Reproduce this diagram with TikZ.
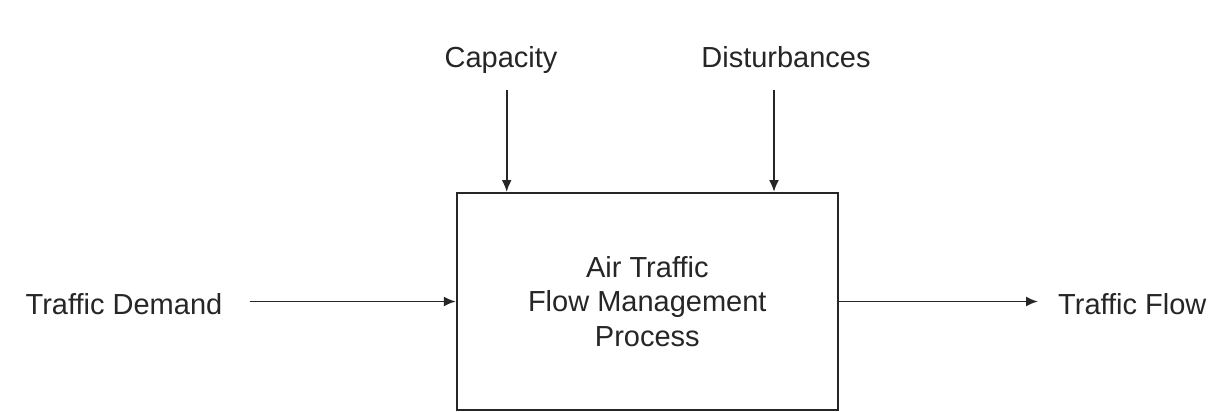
\documentclass[tikz,border=0pt]{standalone}
\usepackage{fontspec}
\setmainfont{Liberation Sans}
\usetikzlibrary{arrows.meta}
\begin{document}
\begin{tikzpicture}[x=1pt,y=1pt,
  lbl/.style={inner sep=0pt, anchor=base, font=\fontsize{29}{34.5}\selectfont, text=black!85},
  arr/.style={draw=black!85, line width=1.9pt, -{Latex[length=12pt,width=10pt]}},
  procbox/.style={draw=black!85, line width=2pt, fill=white, minimum width=381pt, minimum height=217pt, inner sep=0pt, align=center, font=\fontsize{29}{34.5}\selectfont, text=black!85}]
\useasboundingbox[fill=white] (0,0) rectangle (1224,-412);
\node[procbox] (box) at (647.3,-301.5) {Air Traffic\\Flow Management\\Process};
\node[lbl] (cap) at (501,-67) {Capacity};
\node[lbl] (dist) at (786,-67) {Disturbances};
\node[lbl] (td) at (124,-314) {Traffic Demand};
\node[lbl, anchor=base west] (tf) at (1058,-314) {Traffic Flow};
\coordinate (c1) at (506.7,-90);
\coordinate (c2) at (774,-90);
\draw[arr] (c1) -- (c1 |- box.north);
\draw[arr] (c2) -- (c2 |- box.north);
\draw[arr, shorten <=27pt] (td.east |- box.west) -- (box.west);
\draw[arr, shorten >=20pt] (box.east) -- (tf.west |- box.east);
\end{tikzpicture}
\end{document}
